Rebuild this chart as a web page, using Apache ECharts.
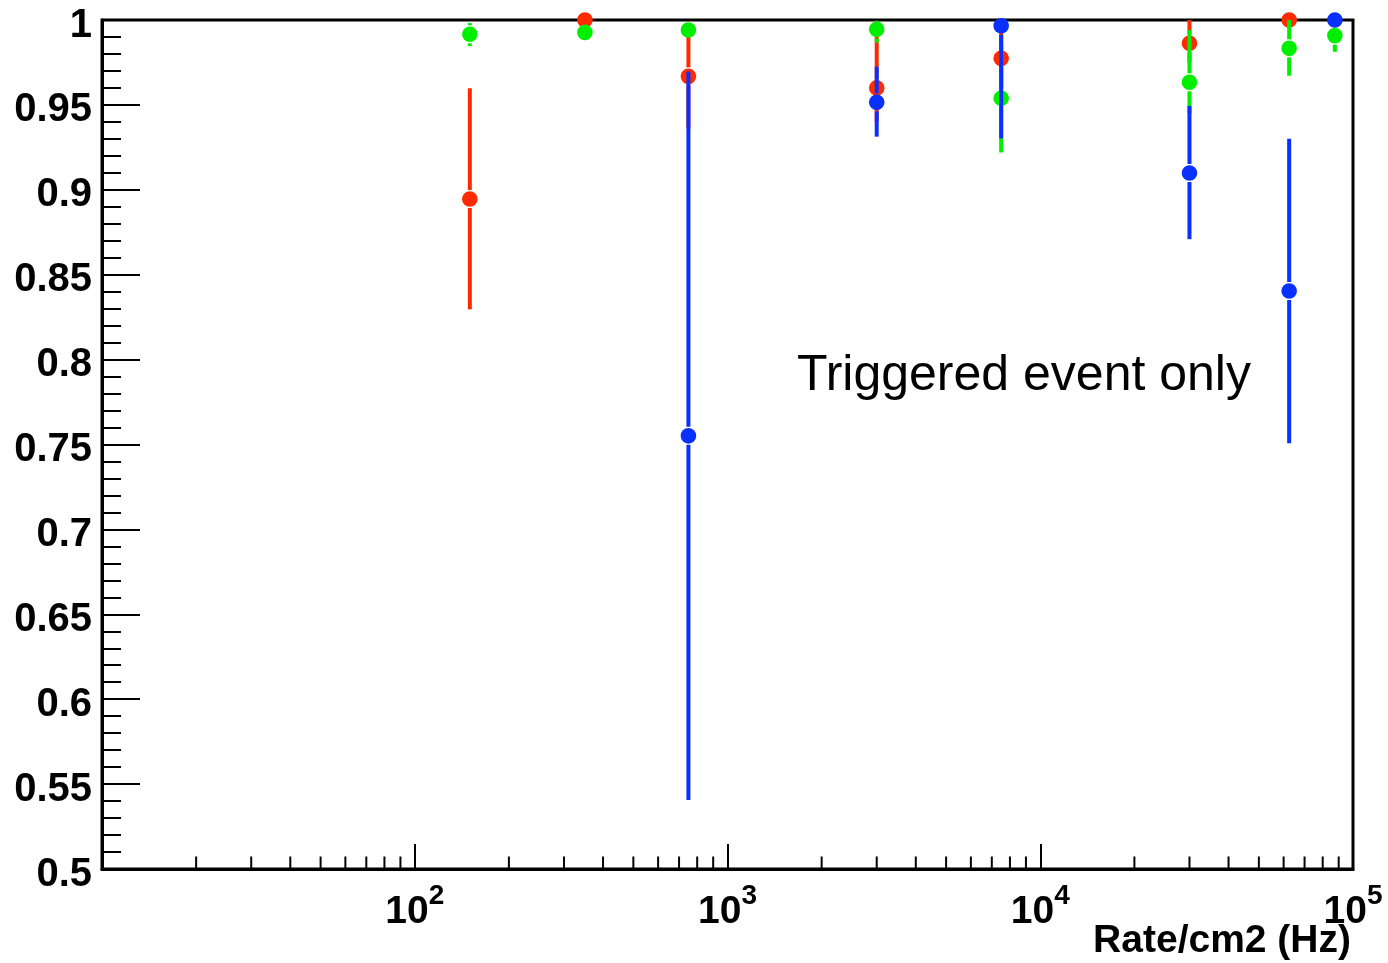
<!DOCTYPE html>
<html>
<head>
<meta charset="utf-8">
<script src="https://cdn.jsdelivr.net/npm/echarts@6/dist/echarts.min.js"></script>
<style>
  html, body { margin: 0; padding: 0; background: #fff; }
  #chart { width: 1388px; height: 963px; }
</style>
</head>
<body>
<div id="chart"></div>
<script>
// Efficiency versus hit rate for three datasets, with asymmetric error bars.
const redX  = [150, 350, 750, 3000, 7500, 30000, 62500];
const redY  = [0.8946, 1.0, 0.9668, 0.9600, 0.9774, 0.9863, 1.0];
const redLo = [0.8296, 1.0, 0.9360, 0.9400, 0.9600, 0.9750, 1.0];
const redHi = [0.9598, 1.0, 0.9970, 0.9930, 0.9950, 1.0, 1.0];

const greenX  = [150, 350, 750, 3000, 7500, 30000, 62500, 87500];
const greenY  = [0.9916, 0.9927, 0.9941, 0.9945, 0.9539, 0.9633, 0.9833, 0.9908];
const greenLo = [0.9847, 0.9927, 0.9920, 0.9866, 0.9220, 0.9450, 0.9672, 0.9813];
const greenHi = [0.9982, 0.9927, 0.9970, 1.0, 0.9850, 0.9941, 1.0, 1.0];

const blueX  = [750, 3000, 7500, 30000, 62500, 87500];
const blueY  = [0.7551, 0.9515, 0.9966, 0.9099, 0.8404, 1.0];
const blueLo = [0.5406, 0.9313, 0.9303, 0.8709, 0.7507, 1.0];
const blueHi = [0.9696, 0.9725, 1.0, 0.9494, 0.9300, 1.0];

// log-axis minor ticks (2..9 within each decade)
const minorTickValues = [
  20, 30, 40, 50, 60, 70, 80, 90,
  200, 300, 400, 500, 600, 700, 800, 900,
  2000, 3000, 4000, 5000, 6000, 7000, 8000, 9000,
  20000, 30000, 40000, 50000, 60000, 70000, 80000, 90000
];

const annotation = 'Triggered event only';
const xTitle = 'Rate/cm2 (Hz)';

const FONT = '"Liberation Sans", Arial, Helvetica, sans-serif';
const COLORS = { red: '#ff2a00', green: '#00ee00', blue: '#0a30ff' };

const chart = echarts.init(document.getElementById('chart'), null, { renderer: 'canvas' });

function errorSeries(name, color, xs, ys, los, his) {
  return {
    type: 'custom',
    name: name,
    coordinateSystem: 'cartesian2d',
    clip: false,
    silent: true,
    data: xs.map((x, i) => [x, ys[i], los[i], his[i]]),
    encode: { x: 0, y: [1, 2, 3] },
    renderItem: function (params, api) {
      const x = api.value(0);
      const c = api.coord([x, api.value(1)]);
      const lo = api.coord([x, api.value(2)]);
      const hi = api.coord([x, api.value(3)]);
      const gap = 9;
      const children = [];
      if (c[1] - hi[1] > gap) {
        children.push({
          type: 'line',
          shape: { x1: c[0], y1: hi[1], x2: c[0], y2: c[1] - gap },
          style: { stroke: color, lineWidth: 4 }
        });
      }
      if (lo[1] - c[1] > gap) {
        children.push({
          type: 'line',
          shape: { x1: c[0], y1: c[1] + gap, x2: c[0], y2: lo[1] },
          style: { stroke: color, lineWidth: 4 }
        });
      }
      children.push({
        type: 'circle',
        shape: { cx: c[0], cy: c[1], r: 7.8 },
        style: { fill: color }
      });
      return { type: 'group', children: children };
    }
  };
}

const option = {
  backgroundColor: '#fff',
  animation: false,
  grid: {
    left: 102, top: 20, right: 35, bottom: 94,
    containLabel: false,
    outerBoundsMode: 'none',
    show: true, borderColor: '#000', borderWidth: 3, backgroundColor: 'transparent'
  },
  xAxis: {
    type: 'log',
    logBase: 10,
    min: 10,
    max: 100000,
    axisLine: { show: true, lineStyle: { color: '#000', width: 3 } },
    axisTick: { show: true, inside: true, length: 25, lineStyle: { color: '#000', width: 2 } },
    splitLine: { show: false },
    axisLabel: {
      margin: 24,
      color: '#000',
      formatter: function (v) {
        const e = Math.round(Math.log10(v));
        if (e <= 1) return '';
        return '{b|10}{s|' + e + '}';
      },
      rich: {
        b: { fontFamily: FONT, fontWeight: 'bold', fontSize: 39, lineHeight: 39, color: '#000' },
        s: { fontFamily: FONT, fontWeight: 'bold', fontSize: 28, lineHeight: 28, color: '#000', padding: [0, 0, 32, 0] }
      }
    }
  },
  yAxis: {
    type: 'value',
    min: 0.5,
    max: 1,
    interval: 0.05,
    axisLine: { show: true, lineStyle: { color: '#000', width: 3 } },
    axisTick: { show: true, inside: true, length: 38, lineStyle: { color: '#000', width: 2 } },
    minorTick: { show: true, splitNumber: 5, length: 19, lineStyle: { color: '#000', width: 2 } },
    splitLine: { show: false },
    minorSplitLine: { show: false },
    axisLabel: {
      margin: 10,
      color: '#000',
      formatter: function (v) { return '{n|' + (Math.round(v * 100) / 100) + '}'; },
      rich: {
        n: { fontFamily: FONT, fontWeight: 'bold', fontSize: 40, lineHeight: 40, color: '#000', padding: [11, 0, 0, 0] }
      }
    }
  },
  graphic: [
    {
      type: 'text',
      left: 797,
      top: 351,
      style: { text: annotation, font: '50px ' + FONT, fill: '#000' }
    },
    {
      type: 'text',
      right: 37,
      top: 922,
      style: { text: xTitle, font: 'bold 39px ' + FONT, fill: '#000' }
    }
  ],
  series: [
    {
      type: 'custom',
      name: 'minor ticks',
      coordinateSystem: 'cartesian2d',
      clip: false,
      silent: true,
      z: 1,
      data: minorTickValues.map(v => [v, 0.5]),
      renderItem: function (params, api) {
        const p = api.coord([api.value(0), api.value(1)]);
        return {
          type: 'line',
          shape: { x1: p[0], y1: p[1], x2: p[0], y2: p[1] - 12.5 },
          style: { stroke: '#000', lineWidth: 2 }
        };
      }
    },
    errorSeries('red', COLORS.red, redX, redY, redLo, redHi),
    errorSeries('green', COLORS.green, greenX, greenY, greenLo, greenHi),
    errorSeries('blue', COLORS.blue, blueX, blueY, blueLo, blueHi)
  ]
};

chart.setOption(option);
</script>
</body>
</html>
